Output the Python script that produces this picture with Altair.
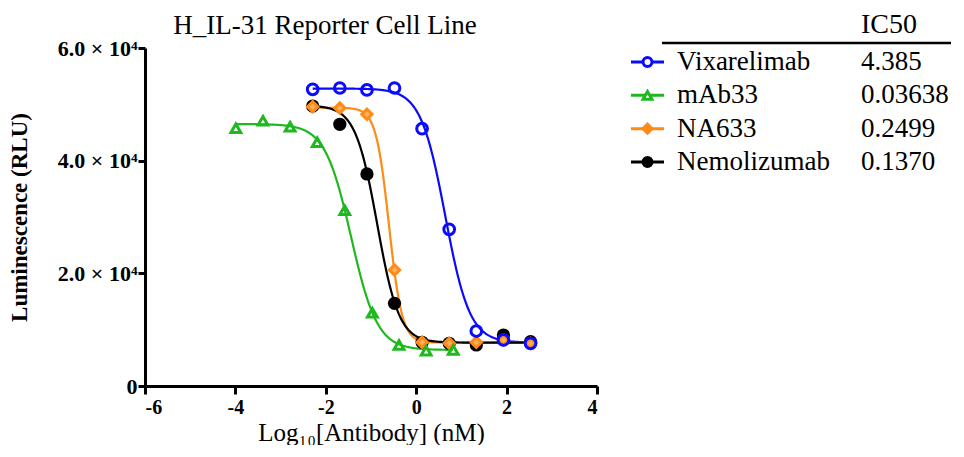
import altair as alt
import pandas as pd

# ---- data ----
series = ["Vixarelimab", "mAb33", "NA633", "Nemolizumab"]
ic50_text = ["4.385", "0.03638", "0.2499", "0.1370"]
colors = ["#0a0aff", "#1fb81f", "#ff8a14", "#000000"]
shapes = ["circle", "triangle-up", "diamond", "circle"]

dose_a = [-2.29, -1.69, -1.09, -0.48, 0.13, 0.73, 1.33, 1.93, 2.53]
dose_g = [-3.99, -3.39, -2.79, -2.19, -1.58, -0.97, -0.38, 0.22, 0.82]

vix = [52670, 52900, 52550, 52900, 45680, 27820, 9760, 8170, 7580]
mab = [45750, 47100, 46030, 43260, 31190, 13010, 7280, 6270, 6390]
na = [49580, 49350, 48230, 20590, 7760, 7580, 7760, 8170, 7580]
nemo = [49700, 46460, 37640, 14680, 7760, 7580, 7280, 9050, 7860]

# fitted 4PL parameters
top = [52800, 46500, 49400, 49800]
bottom = [7700, 6400, 7700, 7700]
log_ic50 = [0.642, -1.44, -0.602, -0.863]
hill = [1.6, 1.5, 3.0, 1.8]
xmin = [-2.29, -3.99, -2.29, -2.29]
xmax = [2.53, 0.82, 2.53, 2.53]

title_text = "H_IL-31 Reporter Cell Line"

values = {"Vixarelimab": (dose_a, vix), "mAb33": (dose_g, mab),
          "NA633": (dose_a, na), "Nemolizumab": (dose_a, nemo)}

rows = []
for s in series:
    xs, ys = values[s]
    for x, y in zip(xs, ys):
        rows.append({"series": s, "logx": x, "rlu": y})
pts = pd.DataFrame(rows)

params = pd.DataFrame({"series": series, "top": top, "bottom": bottom,
                       "lic": log_ic50, "hill": hill, "xmin": xmin, "xmax": xmax})
leg = pd.DataFrame({"series": series, "ic50": ic50_text})

FONT = "Liberation Serif"
order = ["Nemolizumab", "NA633", "mAb33", "Vixarelimab"]

color = alt.Color("series:N", scale=alt.Scale(domain=series, range=colors), legend=None)
shape = alt.Shape("series:N", scale=alt.Scale(domain=series, range=shapes), legend=None)

xenc = alt.X("logx:Q", scale=alt.Scale(domain=[-6, 4], nice=False),
             axis=alt.Axis(values=[-6, -4, -2, 0, 2, 4], labelExpr="'' + datum.value",
                           title="Log₁₀[Antibody] (nM)", labelFontSize=20, labelPadding=3,
                           titleFontWeight="normal", titleFontSize=25, titlePadding=3))
yenc = alt.Y("rlu:Q", scale=alt.Scale(domain=[0, 60000], nice=False),
             axis=alt.Axis(values=[0, 20000, 40000, 60000], labelFontSize=22, labelPadding=1,
                           labelExpr="datum.value == 0 ? '0' : format(datum.value/10000, '.1f') + ' × 10⁴'",
                           title="Luminescence (RLU)", titleFontWeight="bold",
                           titleFontSize=23, titlePadding=26, tickSize=7))

curves = alt.Chart(params).transform_calculate(
    xs="sequence(datum.xmin, datum.xmax + 0.001, 0.02)"
).transform_flatten(["xs"]).transform_calculate(
    logx="datum.xs",
    rlu="datum.bottom + (datum.top - datum.bottom) / (1 + pow(10, (datum.xs - datum.lic) * datum.hill))"
).mark_line(strokeWidth=2.2).encode(x=xenc, y=yenc, color=color, detail="series:N")

layers = [curves]
for s in order:
    sub = pts[pts.series == s]
    if s == "Vixarelimab":
        m = alt.Chart(sub).mark_point(filled=False, size=115, strokeWidth=3, opacity=1)
    elif s == "mAb33":
        m = alt.Chart(sub).mark_point(filled=False, size=95, strokeWidth=3, opacity=1)
    elif s == "NA633":
        m = alt.Chart(sub).mark_point(filled=True, size=105, fill="#ffb060", stroke="#ff8a14",
                                       strokeWidth=3, opacity=1)
    else:
        m = alt.Chart(sub).mark_point(filled=True, size=175, opacity=1)
    layers.append(m.encode(x="logx:Q", y="rlu:Q", color=color, shape=shape))

# ---- legend table at the right, and chart title ----
ly = alt.Y("series:N", scale=alt.Scale(type="point", domain=series, range=[14, 114], padding=0), axis=None)
leg_line = alt.Chart(leg).mark_rule(strokeWidth=3).encode(
    x=alt.value(486), x2=alt.value(519), y=ly, color=color)
leg_pt = alt.Chart(leg).mark_point(size=80, strokeWidth=3, opacity=1, fill="white").encode(
    x=alt.value(502.5), y=ly, color=color, shape=shape)
leg_pt_fill = alt.Chart(leg[leg.series.isin(["NA633", "Nemolizumab"])]).mark_point(
    size=80, filled=True, opacity=1).encode(x=alt.value(502.5), y=ly, color=color, shape=shape)
leg_name = alt.Chart(leg).mark_text(align="left", baseline="middle", font=FONT, fontSize=27,
                                     color="black").encode(x=alt.value(532), y=ly, text="series:N")
leg_val = alt.Chart(leg).mark_text(align="left", baseline="middle", font=FONT, fontSize=27,
                                    color="black").encode(x=alt.value(716), y=ly, text="ic50:N")
header = alt.Chart(pd.DataFrame({"t": ["IC50"]})).mark_text(
    align="left", baseline="middle", font=FONT, fontSize=28, color="black").encode(
    x=alt.value(716), y=alt.value(-23), text="t:N")
underline = alt.Chart(pd.DataFrame({"t": ["IC50"]})).mark_rule(strokeWidth=2.5, color="black").encode(
    x=alt.value(517), x2=alt.value(806), y=alt.value(-5))
title = alt.Chart(pd.DataFrame({"t": [title_text]})).mark_text(
    align="center", baseline="middle", font=FONT, fontSize=27, color="black").encode(
    x=alt.value(180), y=alt.value(-22), text="t:N")

legend = alt.layer(leg_line, leg_pt, leg_pt_fill, leg_name, leg_val, header, underline, title)

main = alt.layer(*layers)

chart = alt.layer(main, legend).resolve_scale(y="independent").properties(
    width=452, height=338, padding={"left": 0, "right": 0, "top": 3, "bottom": 0},
).configure_view(stroke=None).configure_axis(
    grid=False, domainColor="black", domainWidth=3, tickColor="black", tickWidth=3, tickSize=8,
    labelFont=FONT, labelFontWeight="bold", labelColor="black",
    titleFont=FONT, titleColor="black",
)

chart.save("out.html", embed_options={"renderer": "svg", "actions": False})
